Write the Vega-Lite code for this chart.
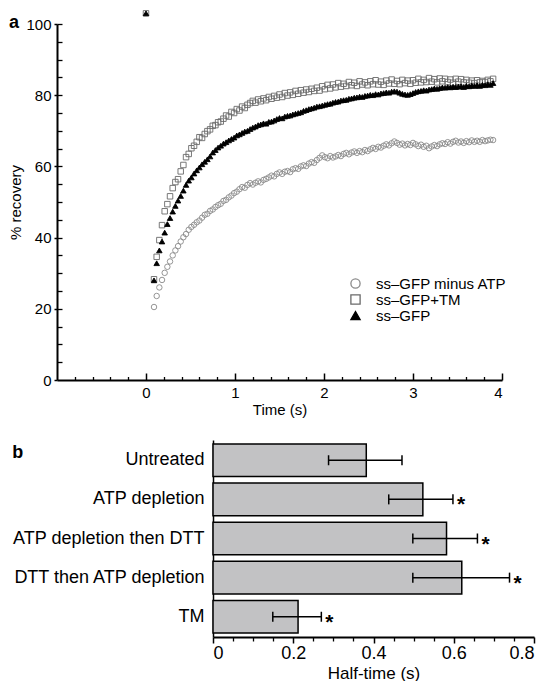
{
"$schema": "https://vega.github.io/schema/vega-lite/v6.json",
"padding": {"top": 8, "left": 8, "right": 2, "bottom": 0},
"spacing": 23,
"config": {
  "view": {"stroke": null},
  "font": "Liberation Sans",
  "axis": {"grid": false, "domainColor": "black", "tickColor": "black", "labelColor": "black", "titleColor": "black", "labelFont": "Liberation Sans", "titleFont": "Liberation Sans", "titleFontWeight": "normal"},
  "legend": {"labelFont": "Liberation Sans", "labelColor": "black"}
},
"vconcat": [
{
  "width": 445, "height": 356,
  "title": {"text": "a", "anchor": "start", "frame": "bounds", "fontSize": 18, "fontWeight": "bold", "color": "black", "offset": 0, "dy": 23},
  "data": {"values": [
{"t":0,"s":"T","v":103},{"t":0,"s":"G","v":103},
{"t":0.09,"s":"A","v":20.5},{"t":0.12,"s":"A","v":23.6},{"t":0.15,"s":"A","v":26.0},{"t":0.18,"s":"A","v":28.1},{"t":0.21,"s":"A","v":30.1},{"t":0.24,"s":"A","v":31.8},{"t":0.27,"s":"A","v":33.3},{"t":0.30,"s":"A","v":35.0},{"t":0.33,"s":"A","v":36.4},{"t":0.36,"s":"A","v":37.6},
{"t":0.39,"s":"A","v":38.9},{"t":0.42,"s":"A","v":40.1},{"t":0.45,"s":"A","v":41.0},{"t":0.48,"s":"A","v":42.2},{"t":0.51,"s":"A","v":43.0},{"t":0.54,"s":"A","v":43.6},{"t":0.57,"s":"A","v":44.3},{"t":0.60,"s":"A","v":44.8},{"t":0.63,"s":"A","v":45.6},{"t":0.66,"s":"A","v":46.4},
{"t":0.69,"s":"A","v":46.7},{"t":0.72,"s":"A","v":47.5},{"t":0.75,"s":"A","v":47.9},{"t":0.78,"s":"A","v":48.6},{"t":0.81,"s":"A","v":49.1},{"t":0.84,"s":"A","v":49.5},{"t":0.87,"s":"A","v":50.3},{"t":0.90,"s":"A","v":50.6},{"t":0.93,"s":"A","v":51.3},{"t":0.96,"s":"A","v":51.8},
{"t":0.99,"s":"A","v":52.5},{"t":1.02,"s":"A","v":52.9},{"t":1.05,"s":"A","v":53.6},{"t":1.08,"s":"A","v":54.2},{"t":1.11,"s":"A","v":54.0},{"t":1.14,"s":"A","v":54.8},{"t":1.17,"s":"A","v":55.3},{"t":1.20,"s":"A","v":54.9},{"t":1.23,"s":"A","v":55.4},{"t":1.26,"s":"A","v":55.8},
{"t":1.29,"s":"A","v":55.5},{"t":1.32,"s":"A","v":56.2},{"t":1.35,"s":"A","v":56.5},{"t":1.38,"s":"A","v":56.9},{"t":1.41,"s":"A","v":57.4},{"t":1.44,"s":"A","v":57.2},{"t":1.47,"s":"A","v":57.9},{"t":1.50,"s":"A","v":58.3},{"t":1.53,"s":"A","v":57.9},{"t":1.56,"s":"A","v":58.5},
{"t":1.59,"s":"A","v":58.7},{"t":1.62,"s":"A","v":58.4},{"t":1.65,"s":"A","v":59.2},{"t":1.68,"s":"A","v":59.5},{"t":1.71,"s":"A","v":59.3},{"t":1.74,"s":"A","v":60.0},{"t":1.77,"s":"A","v":60.3},{"t":1.80,"s":"A","v":60.1},{"t":1.83,"s":"A","v":60.8},{"t":1.86,"s":"A","v":61.2},
{"t":1.89,"s":"A","v":61.0},{"t":1.92,"s":"A","v":61.8},{"t":1.95,"s":"A","v":62.4},{"t":1.98,"s":"A","v":63.1},{"t":2.01,"s":"A","v":62.6},{"t":2.04,"s":"A","v":62.3},{"t":2.07,"s":"A","v":62.9},{"t":2.10,"s":"A","v":62.5},{"t":2.13,"s":"A","v":62.8},{"t":2.16,"s":"A","v":63.2},
{"t":2.19,"s":"A","v":62.9},{"t":2.22,"s":"A","v":63.5},{"t":2.25,"s":"A","v":63.8},{"t":2.28,"s":"A","v":63.4},{"t":2.31,"s":"A","v":63.9},{"t":2.34,"s":"A","v":64.2},{"t":2.37,"s":"A","v":63.8},{"t":2.40,"s":"A","v":64.3},{"t":2.43,"s":"A","v":64.0},{"t":2.46,"s":"A","v":64.6},
{"t":2.49,"s":"A","v":64.3},{"t":2.52,"s":"A","v":64.8},{"t":2.55,"s":"A","v":65.2},{"t":2.58,"s":"A","v":64.9},{"t":2.61,"s":"A","v":65.5},{"t":2.64,"s":"A","v":65.3},{"t":2.67,"s":"A","v":65.8},{"t":2.70,"s":"A","v":66.2},{"t":2.73,"s":"A","v":65.9},{"t":2.76,"s":"A","v":66.5},
{"t":2.79,"s":"A","v":67.0},{"t":2.82,"s":"A","v":66.6},{"t":2.85,"s":"A","v":66.1},{"t":2.88,"s":"A","v":66.4},{"t":2.91,"s":"A","v":65.9},{"t":2.94,"s":"A","v":66.3},{"t":2.97,"s":"A","v":66.0},{"t":3.00,"s":"A","v":66.6},{"t":3.03,"s":"A","v":66.2},{"t":3.06,"s":"A","v":65.7},
{"t":3.09,"s":"A","v":66.1},{"t":3.12,"s":"A","v":65.5},{"t":3.15,"s":"A","v":65.8},{"t":3.18,"s":"A","v":65.1},{"t":3.21,"s":"A","v":65.6},{"t":3.24,"s":"A","v":66.0},{"t":3.27,"s":"A","v":65.7},{"t":3.30,"s":"A","v":66.2},{"t":3.33,"s":"A","v":66.5},{"t":3.36,"s":"A","v":66.3},
{"t":3.39,"s":"A","v":66.8},{"t":3.42,"s":"A","v":66.4},{"t":3.45,"s":"A","v":66.9},{"t":3.48,"s":"A","v":67.2},{"t":3.51,"s":"A","v":66.7},{"t":3.54,"s":"A","v":67.0},{"t":3.57,"s":"A","v":66.6},{"t":3.60,"s":"A","v":67.1},{"t":3.63,"s":"A","v":66.8},{"t":3.66,"s":"A","v":67.3},
{"t":3.69,"s":"A","v":66.9},{"t":3.72,"s":"A","v":67.2},{"t":3.75,"s":"A","v":66.9},{"t":3.78,"s":"A","v":67.4},{"t":3.81,"s":"A","v":67.1},{"t":3.84,"s":"A","v":67.3},{"t":3.87,"s":"A","v":67.5},{"t":3.90,"s":"A","v":67.4},
{"t":0.09,"s":"T","v":28.3},{"t":0.12,"s":"T","v":34.6},{"t":0.15,"s":"T","v":39.3},{"t":0.18,"s":"T","v":43.5},{"t":0.21,"s":"T","v":47.4},{"t":0.24,"s":"T","v":49.4},{"t":0.27,"s":"T","v":51.6},{"t":0.30,"s":"T","v":53.9},{"t":0.33,"s":"T","v":55.6},{"t":0.36,"s":"T","v":56.4},
{"t":0.39,"s":"T","v":58.6},{"t":0.42,"s":"T","v":60.4},{"t":0.45,"s":"T","v":62.6},{"t":0.48,"s":"T","v":63.5},{"t":0.51,"s":"T","v":65.1},{"t":0.54,"s":"T","v":65.8},{"t":0.57,"s":"T","v":66.9},{"t":0.60,"s":"T","v":68.2},{"t":0.63,"s":"T","v":68.0},{"t":0.66,"s":"T","v":69.1},
{"t":0.69,"s":"T","v":69.9},{"t":0.72,"s":"T","v":70.4},{"t":0.75,"s":"T","v":71.4},{"t":0.78,"s":"T","v":71.6},{"t":0.81,"s":"T","v":72.4},{"t":0.84,"s":"T","v":72.6},{"t":0.87,"s":"T","v":73.4},{"t":0.90,"s":"T","v":74.3},{"t":0.93,"s":"T","v":74.0},{"t":0.96,"s":"T","v":75.3},
{"t":0.99,"s":"T","v":75.0},{"t":1.02,"s":"T","v":76.1},{"t":1.05,"s":"T","v":75.7},{"t":1.08,"s":"T","v":76.8},{"t":1.11,"s":"T","v":76.4},{"t":1.14,"s":"T","v":77.3},{"t":1.17,"s":"T","v":77.8},{"t":1.20,"s":"T","v":78.4},{"t":1.23,"s":"T","v":77.9},{"t":1.26,"s":"T","v":78.8},
{"t":1.29,"s":"T","v":78.3},{"t":1.32,"s":"T","v":79.1},{"t":1.35,"s":"T","v":78.6},{"t":1.38,"s":"T","v":79.5},{"t":1.41,"s":"T","v":79.0},{"t":1.44,"s":"T","v":79.8},{"t":1.47,"s":"T","v":79.3},{"t":1.50,"s":"T","v":80.2},{"t":1.53,"s":"T","v":79.5},{"t":1.56,"s":"T","v":80.6},
{"t":1.59,"s":"T","v":79.9},{"t":1.62,"s":"T","v":80.8},{"t":1.65,"s":"T","v":80.1},{"t":1.68,"s":"T","v":81.2},{"t":1.71,"s":"T","v":80.4},{"t":1.74,"s":"T","v":81.4},{"t":1.77,"s":"T","v":80.7},{"t":1.80,"s":"T","v":81.6},{"t":1.83,"s":"T","v":80.9},{"t":1.86,"s":"T","v":81.8},
{"t":1.89,"s":"T","v":81.2},{"t":1.92,"s":"T","v":82.1},{"t":1.95,"s":"T","v":81.3},{"t":1.98,"s":"T","v":82.5},{"t":2.01,"s":"T","v":81.7},{"t":2.04,"s":"T","v":82.9},{"t":2.07,"s":"T","v":81.9},{"t":2.10,"s":"T","v":83.0},{"t":2.13,"s":"T","v":82.2},{"t":2.16,"s":"T","v":83.4},
{"t":2.19,"s":"T","v":82.4},{"t":2.22,"s":"T","v":83.2},{"t":2.25,"s":"T","v":82.6},{"t":2.28,"s":"T","v":83.7},{"t":2.31,"s":"T","v":82.8},{"t":2.34,"s":"T","v":83.5},{"t":2.37,"s":"T","v":82.6},{"t":2.40,"s":"T","v":83.9},{"t":2.43,"s":"T","v":83.0},{"t":2.46,"s":"T","v":83.6},
{"t":2.49,"s":"T","v":82.8},{"t":2.52,"s":"T","v":83.9},{"t":2.55,"s":"T","v":83.1},{"t":2.58,"s":"T","v":84.2},{"t":2.61,"s":"T","v":83.0},{"t":2.64,"s":"T","v":83.8},{"t":2.67,"s":"T","v":82.9},{"t":2.70,"s":"T","v":84.1},{"t":2.73,"s":"T","v":83.3},{"t":2.76,"s":"T","v":84.4},
{"t":2.79,"s":"T","v":83.2},{"t":2.82,"s":"T","v":84.0},{"t":2.85,"s":"T","v":83.1},{"t":2.88,"s":"T","v":84.3},{"t":2.91,"s":"T","v":83.4},{"t":2.94,"s":"T","v":84.1},{"t":2.97,"s":"T","v":83.2},{"t":3.00,"s":"T","v":84.2},{"t":3.03,"s":"T","v":83.5},{"t":3.06,"s":"T","v":84.6},
{"t":3.09,"s":"T","v":83.6},{"t":3.12,"s":"T","v":84.3},{"t":3.15,"s":"T","v":83.7},{"t":3.18,"s":"T","v":84.8},{"t":3.21,"s":"T","v":83.8},{"t":3.24,"s":"T","v":84.5},{"t":3.27,"s":"T","v":83.6},{"t":3.30,"s":"T","v":84.7},{"t":3.33,"s":"T","v":83.9},{"t":3.36,"s":"T","v":84.6},
{"t":3.39,"s":"T","v":83.7},{"t":3.42,"s":"T","v":84.4},{"t":3.45,"s":"T","v":83.5},{"t":3.48,"s":"T","v":84.6},{"t":3.51,"s":"T","v":83.8},{"t":3.54,"s":"T","v":84.5},{"t":3.57,"s":"T","v":83.6},{"t":3.60,"s":"T","v":84.3},{"t":3.63,"s":"T","v":83.5},{"t":3.66,"s":"T","v":84.1},
{"t":3.69,"s":"T","v":83.4},{"t":3.72,"s":"T","v":84.2},{"t":3.75,"s":"T","v":83.6},{"t":3.78,"s":"T","v":84.0},{"t":3.81,"s":"T","v":83.7},{"t":3.84,"s":"T","v":84.3},{"t":3.87,"s":"T","v":83.9},{"t":3.90,"s":"T","v":84.6},
{"t":0.09,"s":"G","v":28.0},{"t":0.12,"s":"G","v":32.8},{"t":0.15,"s":"G","v":36.4},{"t":0.18,"s":"G","v":38.9},{"t":0.21,"s":"G","v":41.4},{"t":0.24,"s":"G","v":43.8},{"t":0.27,"s":"G","v":45.5},{"t":0.30,"s":"G","v":47.3},{"t":0.33,"s":"G","v":48.9},{"t":0.36,"s":"G","v":50.4},
{"t":0.39,"s":"G","v":51.7},{"t":0.42,"s":"G","v":53.2},{"t":0.45,"s":"G","v":54.8},{"t":0.48,"s":"G","v":56.0},{"t":0.51,"s":"G","v":56.9},{"t":0.54,"s":"G","v":58.0},{"t":0.57,"s":"G","v":58.9},{"t":0.60,"s":"G","v":59.7},{"t":0.63,"s":"G","v":60.6},{"t":0.66,"s":"G","v":61.3},
{"t":0.69,"s":"G","v":62.0},{"t":0.72,"s":"G","v":62.8},{"t":0.75,"s":"G","v":63.9},{"t":0.78,"s":"G","v":64.6},{"t":0.81,"s":"G","v":65.3},{"t":0.84,"s":"G","v":65.8},{"t":0.87,"s":"G","v":66.4},{"t":0.90,"s":"G","v":66.8},{"t":0.93,"s":"G","v":67.3},{"t":0.96,"s":"G","v":67.7},
{"t":0.99,"s":"G","v":68.1},{"t":1.02,"s":"G","v":68.7},{"t":1.05,"s":"G","v":69.0},{"t":1.08,"s":"G","v":69.4},{"t":1.11,"s":"G","v":69.8},{"t":1.14,"s":"G","v":70.0},{"t":1.17,"s":"G","v":70.5},{"t":1.20,"s":"G","v":70.9},{"t":1.23,"s":"G","v":71.2},{"t":1.26,"s":"G","v":71.6},
{"t":1.29,"s":"G","v":71.8},{"t":1.32,"s":"G","v":72.1},{"t":1.35,"s":"G","v":72.0},{"t":1.38,"s":"G","v":72.5},{"t":1.41,"s":"G","v":72.6},{"t":1.44,"s":"G","v":72.9},{"t":1.47,"s":"G","v":73.3},{"t":1.50,"s":"G","v":73.6},{"t":1.53,"s":"G","v":73.5},{"t":1.56,"s":"G","v":74.0},
{"t":1.59,"s":"G","v":74.2},{"t":1.62,"s":"G","v":74.3},{"t":1.65,"s":"G","v":74.6},{"t":1.68,"s":"G","v":74.8},{"t":1.71,"s":"G","v":75.0},{"t":1.74,"s":"G","v":75.2},{"t":1.77,"s":"G","v":75.6},{"t":1.80,"s":"G","v":75.8},{"t":1.83,"s":"G","v":76.1},{"t":1.86,"s":"G","v":76.3},
{"t":1.89,"s":"G","v":76.5},{"t":1.92,"s":"G","v":76.8},{"t":1.95,"s":"G","v":76.9},{"t":1.98,"s":"G","v":77.1},{"t":2.01,"s":"G","v":77.3},{"t":2.04,"s":"G","v":77.5},{"t":2.07,"s":"G","v":77.6},{"t":2.10,"s":"G","v":77.9},{"t":2.13,"s":"G","v":78.1},{"t":2.16,"s":"G","v":78.2},
{"t":2.19,"s":"G","v":78.5},{"t":2.22,"s":"G","v":78.6},{"t":2.25,"s":"G","v":78.7},{"t":2.28,"s":"G","v":79.0},{"t":2.31,"s":"G","v":79.1},{"t":2.34,"s":"G","v":79.3},{"t":2.37,"s":"G","v":79.4},{"t":2.40,"s":"G","v":79.6},{"t":2.43,"s":"G","v":79.5},{"t":2.46,"s":"G","v":79.8},
{"t":2.49,"s":"G","v":79.9},{"t":2.52,"s":"G","v":80.1},{"t":2.55,"s":"G","v":80.0},{"t":2.58,"s":"G","v":80.3},{"t":2.61,"s":"G","v":80.2},{"t":2.64,"s":"G","v":80.5},{"t":2.67,"s":"G","v":80.6},{"t":2.70,"s":"G","v":80.8},{"t":2.73,"s":"G","v":80.7},{"t":2.76,"s":"G","v":81.0},
{"t":2.79,"s":"G","v":81.1},{"t":2.82,"s":"G","v":81.0},{"t":2.85,"s":"G","v":80.7},{"t":2.88,"s":"G","v":80.4},{"t":2.91,"s":"G","v":80.2},{"t":2.94,"s":"G","v":80.1},{"t":2.97,"s":"G","v":80.3},{"t":3.00,"s":"G","v":80.6},{"t":3.03,"s":"G","v":80.9},{"t":3.06,"s":"G","v":81.1},
{"t":3.09,"s":"G","v":81.2},{"t":3.12,"s":"G","v":81.4},{"t":3.15,"s":"G","v":81.3},{"t":3.18,"s":"G","v":81.6},{"t":3.21,"s":"G","v":81.7},{"t":3.24,"s":"G","v":81.9},{"t":3.27,"s":"G","v":81.8},{"t":3.30,"s":"G","v":82.0},{"t":3.33,"s":"G","v":82.2},{"t":3.36,"s":"G","v":82.1},
{"t":3.39,"s":"G","v":82.3},{"t":3.42,"s":"G","v":82.2},{"t":3.45,"s":"G","v":82.4},{"t":3.48,"s":"G","v":82.3},{"t":3.51,"s":"G","v":82.4},{"t":3.54,"s":"G","v":82.5},{"t":3.57,"s":"G","v":82.3},{"t":3.60,"s":"G","v":82.6},{"t":3.63,"s":"G","v":82.5},{"t":3.66,"s":"G","v":82.7},
{"t":3.69,"s":"G","v":82.6},{"t":3.72,"s":"G","v":82.8},{"t":3.75,"s":"G","v":82.6},{"t":3.78,"s":"G","v":82.9},{"t":3.81,"s":"G","v":82.8},{"t":3.84,"s":"G","v":83.1},{"t":3.87,"s":"G","v":82.9},{"t":3.90,"s":"G","v":83.4}
  ]},
  "layer": [
    {
      "mark": {"type": "point", "opacity": 1, "size": 30, "strokeWidth": 0.9, "clip": false},
      "encoding": {
        "x": {"field": "t", "type": "quantitative", "scale": {"domain": [-1, 4], "nice": false, "zero": false},
              "axis": {"orient": "bottom", "values": [0, 1, 2, 3, 4], "title": "Time (s)", "tickSize": -7, "tickWidth": 1.5, "domainWidth": 2, "labelFontSize": 15, "labelPadding": 12, "titleFontSize": 15, "titlePadding": 2}},
        "y": {"field": "v", "type": "quantitative", "scale": {"domain": [0, 100], "nice": false},
              "axis": {"orient": "left", "values": [0, 20, 40, 60, 80, 100], "title": "% recovery", "tickSize": 3, "tickWidth": 1.5, "domainWidth": 2, "labelFontSize": 15, "labelPadding": 3, "titleFontSize": 15, "titlePadding": 2}},
        "shape": {"field": "s", "type": "nominal", "scale": {"domain": ["A", "T", "G"], "range": ["circle", "square", "triangle-up"]},
                  "legend": {"orient": "none", "legendX": 291, "legendY": 252, "title": null, "labelFontSize": 15, "symbolSize": 85, "symbolStrokeWidth": 1.3, "symbolFillColor": "transparent", "symbolStrokeColor": "black", "rowPadding": 0, "labelOffset": 13, "padding": 0,
                             "labelExpr": "datum.label == 'A' ? 'ss–GFP minus ATP' : datum.label == 'T' ? 'ss–GFP+TM' : 'ss–GFP'"}},
        "fill": {"field": "s", "type": "nominal", "scale": {"domain": ["A", "T", "G"], "range": ["transparent", "transparent", "black"]}, "legend": null},
        "stroke": {"field": "s", "type": "nominal", "scale": {"domain": ["A", "T", "G"], "range": ["#8a8a8a", "#6a6a6a", "black"]}, "legend": null}
      }
    },
    {
      "mark": {"type": "point", "opacity": 0},
      "encoding": {
        "x": {"field": "t", "type": "quantitative", "scale": {"domain": [-1, 4], "nice": false, "zero": false},
              "axis": {"orient": "bottom", "values": [-0.8, -0.6, -0.4, -0.2, 0.2, 0.4, 0.6, 0.8, 1.2, 1.4, 1.6, 1.8, 2.2, 2.4, 2.6, 2.8, 3.2, 3.4, 3.6, 3.8], "labels": false, "domain": false, "title": null, "tickSize": -3.5, "tickWidth": 1.3}},
        "y": {"field": "v", "type": "quantitative", "scale": {"domain": [0, 100], "nice": false},
              "axis": {"orient": "left", "values": [5, 10, 15, 20, 25, 30, 35, 40, 45, 50, 55, 60, 65, 70, 75, 80, 85, 90, 95, 100], "labels": false, "domain": false, "title": null, "tickSize": -5, "tickWidth": 1.3}}
      }
    }
  ],
  "resolve": {"axis": {"x": "independent", "y": "independent"}}
},
{
  "width": 477, "height": 197,
  "title": {"text": "b", "anchor": "start", "frame": "bounds", "fontSize": 18, "fontWeight": "bold", "color": "black", "offset": 0, "dy": 22},
  "data": {"values": [
    {"c": "Untreated", "m": 0.382, "lo": 0.288, "hi": 0.471, "sig": ""},
    {"c": "ATP depletion", "m": 0.523, "lo": 0.438, "hi": 0.598, "sig": "*"},
    {"c": "ATP depletion then DTT", "m": 0.582, "lo": 0.498, "hi": 0.659, "sig": "*"},
    {"c": "DTT then ATP depletion", "m": 0.620, "lo": 0.498, "hi": 0.739, "sig": "*"},
    {"c": "TM", "m": 0.212, "lo": 0.149, "hi": 0.270, "sig": "*"}
  ]},
  "encoding": {
    "y": {"field": "c", "type": "nominal", "sort": null, "scale": {"paddingInner": 0.165, "paddingOuter": 0.1},
          "axis": {"title": null, "ticks": false, "labelFontSize": 18, "labelPadding": 9, "domainWidth": 1.5, "labelLimit": 300, "offset": -156}}
  },
  "layer": [
    {
      "mark": {"type": "bar", "fill": "#c2c2c4", "stroke": "black", "strokeWidth": 1.5},
      "encoding": {
        "x": {"field": "m", "type": "quantitative", "scale": {"domain": [0, 0.8], "nice": false, "range": [156, 477]},
              "axis": {"orient": "bottom", "values": [0, 0.2, 0.4, 0.6, 0.8], "format": ".1~f", "title": "Half-time (s)", "tickSize": 6, "tickWidth": 1.5, "domainWidth": 2, "labelFontSize": 18, "labelPadding": 1, "titleFontSize": 17, "titlePadding": 3}}
      }
    },
    {
      "mark": {"type": "rule", "strokeWidth": 1.5, "color": "black"},
      "encoding": {
        "x": {"field": "lo", "type": "quantitative", "axis": {"orient": "bottom", "values": [0.05, 0.1, 0.15, 0.25, 0.3, 0.35, 0.45, 0.5, 0.55, 0.65, 0.7, 0.75], "labels": false, "domain": false, "title": null, "tickSize": 4, "tickWidth": 1.3}},
        "x2": {"field": "hi"}
      }
    },
    {
      "mark": {"type": "tick", "thickness": 1.5, "size": 10, "color": "black", "opacity": 1},
      "encoding": {"x": {"field": "lo", "type": "quantitative", "axis": null}}
    },
    {
      "mark": {"type": "tick", "thickness": 1.5, "size": 10, "color": "black", "opacity": 1},
      "encoding": {"x": {"field": "hi", "type": "quantitative", "axis": null}}
    },
    {
      "mark": {"type": "text", "align": "left", "baseline": "middle", "dx": 4, "dy": 6, "fontSize": 21, "fontWeight": "bold", "color": "black"},
      "encoding": {"x": {"field": "hi", "type": "quantitative", "axis": null}, "text": {"field": "sig"}}
    }
  ],
  "resolve": {"axis": {"x": "independent"}}
}
]
}
